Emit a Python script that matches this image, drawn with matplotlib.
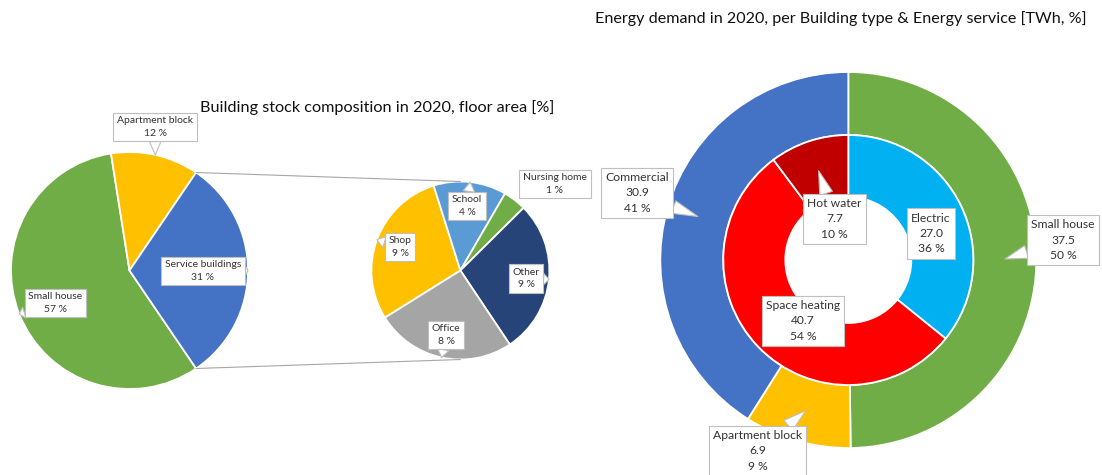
import matplotlib.pyplot as plt
from matplotlib.patches import ConnectionPatch
import numpy as np

plt.rcParams['font.family'] = ['Lato', 'DejaVu Sans']

# building stock 2020, floor area [%]
stock_labels = ['Small house', 'Apartment block', 'Service buildings']
stock_share = [57, 12, 31]
stock_colors = ['#70AD47', '#FFC000', '#4472C4']

# split of service buildings [% of total]
serv_labels = ['Shop', 'School', 'Nursing home', 'Other', 'Office']
serv_share = [9.0, 4.1, 1.3, 8.7, 7.9]
serv_colors = ['#FFC000', '#5B9BD5', '#70AD47', '#264478', '#A5A5A5']

# energy demand 2020 [TWh]
btype_labels = ['Small house', 'Apartment block', 'Commercial']
btype_twh = [37.5, 6.9, 30.9]
btype_colors = ['#70AD47', '#FFC000', '#4472C4']

esrv_labels = ['Electric', 'Space heating', 'Hot water']
esrv_twh = [27.0, 40.7, 7.7]
esrv_colors = ['#00B0F0', '#FF0000', '#C00000']

W, H = 1102, 475
fig = plt.figure(figsize=(W / 100, H / 100), dpi=100)


def pie_axes(cx, cy, r):
    a = fig.add_axes([(cx - r) / W, 1 - (cy + r) / H, 2 * r / W, 2 * r / H])
    a.set_xlim(-1, 1)
    a.set_ylim(-1, 1)
    a.axis('off')
    return a


wp = dict(edgecolor='white', linewidth=1.3)

# left pie
ax1 = pie_axes(129.5, 270.5, 118.5)
w1, _ = ax1.pie(stock_share, colors=stock_colors, startangle=-stock_share[2] * 1.8,
                counterclock=False, wedgeprops=wp)
ax1.set_xlim(-1, 1); ax1.set_ylim(-1, 1)

# second pie (service buildings)
ax2 = pie_axes(460.4, 270.5, 89)
w2, _ = ax2.pie(serv_share, colors=serv_colors, startangle=-148,
                counterclock=False, wedgeprops=wp)
ax2.set_xlim(-1, 1); ax2.set_ylim(-1, 1)

# donut
ax3 = pie_axes(848.3, 260, 188)
w3o, _ = ax3.pie(btype_twh, colors=btype_colors, radius=1, startangle=90, counterclock=False,
                 wedgeprops=dict(width=0.335, edgecolor='white', linewidth=1.3))
w3i, _ = ax3.pie(esrv_twh, colors=esrv_colors, radius=0.665, startangle=90, counterclock=False,
                 wedgeprops=dict(width=0.33, edgecolor='white', linewidth=1.3))
ax3.set_xlim(-1, 1); ax3.set_ylim(-1, 1)

ov = fig.add_axes([0, 0, 1, 1])
ov.set_xlim(0, W)
ov.set_ylim(H, 0)
ov.axis('off')
ov.patch.set_alpha(0)

# lines between the two pies
sb = w1[2]
for th, yy in [(sb.theta2, 1), (sb.theta1, -1)]:
    con = ConnectionPatch(xyA=(np.cos(np.radians(th)), np.sin(np.radians(th))), coordsA=ax1.transData,
                          xyB=(0, yy), coordsB=ax2.transData, color='#A6A6A6', lw=0.8)
    fig.add_artist(con)

ov.text(377.5, 108, 'Building stock composition in 2020, floor area [%]', fontsize=11.7,
        ha='center', va='center', color='#111111')
ov.text(840.5, 19, 'Energy demand in 2020, per Building type & Energy service [TWh, %]',
        fontsize=11.6, ha='center', va='center', color='#111111')


def callout(ax, wedge, r_tip, text, pos, fs, pointer=True, lsp=1.3):
    mid = np.radians((wedge.theta1 + wedge.theta2) / 2)
    tip = (r_tip * np.cos(mid), r_tip * np.sin(mid))
    bbox = dict(boxstyle='square,pad=0.35', fc='white', ec='#BFBFBF', lw=0.8)
    arrow = None
    if pointer:
        arrow = dict(arrowstyle='wedge,tail_width=1.1,shrink_factor=0.5', fc='white',
                     ec='#BFBFBF', lw=0.8, shrinkA=0, shrinkB=0)
    ov.annotate(text, xy=tip, xycoords=ax.transData, xytext=pos, textcoords='data',
                ha='center', va='center', fontsize=fs, linespacing=lsp, color='#333333',
                bbox=bbox, arrowprops=arrow, annotation_clip=False)


stock_pos = [(55.4, 303), (155, 127), (202.7, 271)]
for w, lab, v, p in zip(w1, stock_labels, stock_share, stock_pos):
    callout(ax1, w, 1.0, f'{lab}\n{v:.0f} %', p, 7.5, lsp=1.45)

serv_pos = [(400, 247), (467, 206), (555, 184), (526, 278.7), (446, 335)]
for w, lab, v, p in zip(w2, serv_labels, serv_share, serv_pos):
    callout(ax2, w, 1.0, f'{lab}\n{v:.0f} %', p, 7.5, pointer=(lab != 'Nursing home'), lsp=1.45)

btype_pos = [(1063, 240), (757.5, 451), (637, 193)]
tot = sum(btype_twh)
for w, lab, v, p in zip(w3o, btype_labels, btype_twh, btype_pos):
    callout(ax3, w, 0.833, f'{lab}\n{v:.1f}\n{v / tot * 100:.0f} %', p, 8.7, lsp=1.5)

esrv_pos = [(931, 233.5), (803, 321), (834.5, 219)]
tot = sum(esrv_twh)
for w, lab, v, p in zip(w3i, esrv_labels, esrv_twh, esrv_pos):
    callout(ax3, w, 0.5, f'{lab}\n{v:.1f}\n{v / tot * 100:.0f} %', p, 8.7,
            pointer=(lab == 'Hot water'), lsp=1.5)

fig.savefig('out.png', dpi=100)
